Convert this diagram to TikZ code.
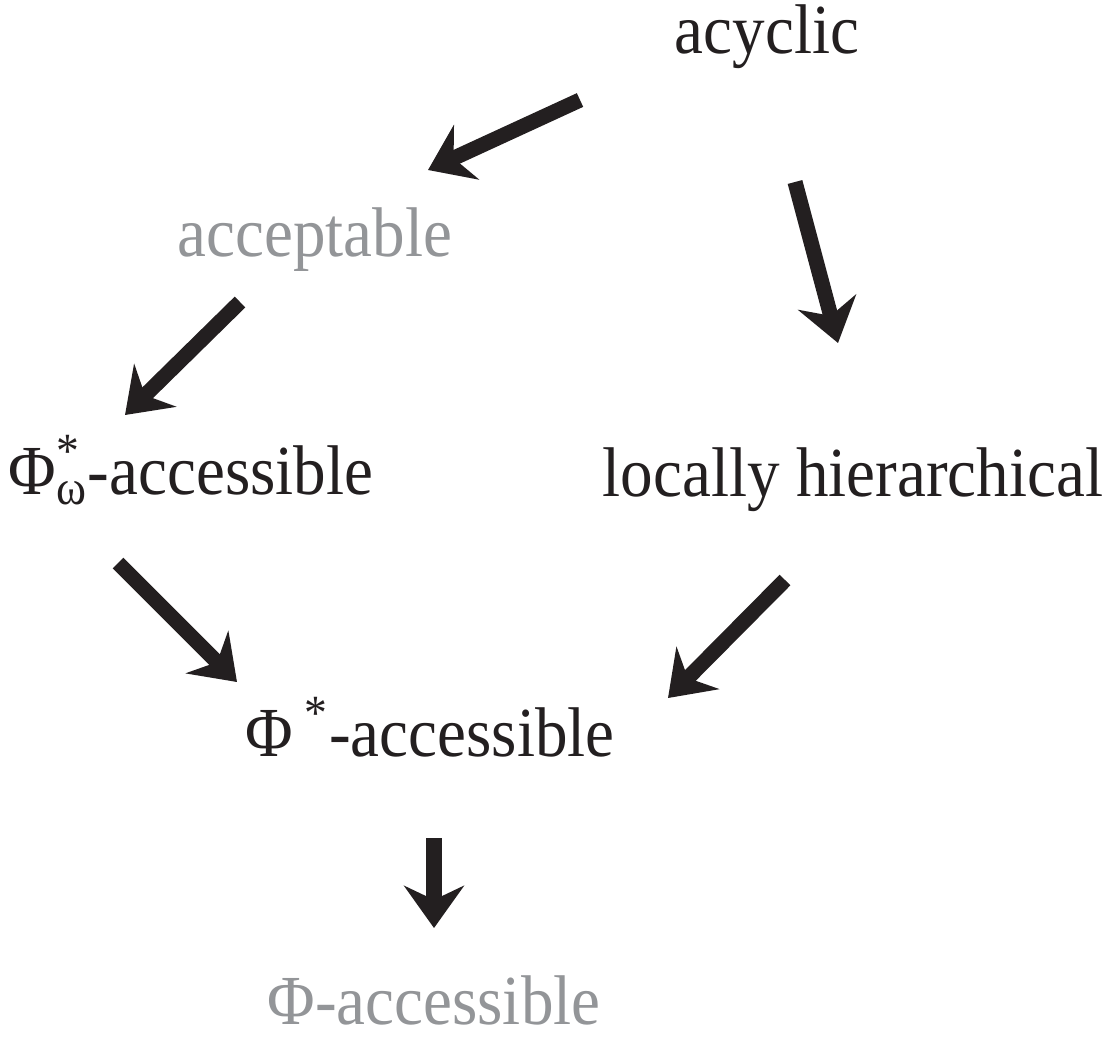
\documentclass[tikz,border=0pt]{standalone}
\usepackage{fontspec}
\usetikzlibrary{arrows.meta}
\newfontfamily\lblfont{Liberation Serif}[FakeStretch=0.925]
\definecolor{ink}{RGB}{35,31,32}
\definecolor{pale}{RGB}{147,149,152}
\newcommand{\supsub}[2]{\rlap{\textsuperscript{#1}}\textsubscript{#2}}

\begin{document}
\begin{tikzpicture}[x=0.01cm, y=-0.01cm,
  lbl/.style={text=ink, inner sep=0pt, anchor=base, font=\fontsize{20}{24}\lblfont},
  weak/.style={lbl, text=pale},
  arr/.style={draw=ink, line width=4.3pt, -{Stealth[length=12pt, width=17pt, inset=4pt]}}]
  \useasboundingbox (0,0) rectangle (1107,1036);
  % classes of programs
  \node[lbl] (acyc) at (767,53) {acyclic};
  \node[weak] (accept) at (315,256) {acceptable};
  \node[lbl, anchor=base west] (phiw) at (8,494) {Φ\supsub{*}{ω}-accessible};
  \node[lbl] (loch) at (853,496) {locally hierarchical};
  \node[lbl] (phis) at (430,756) {Φ\,\textsuperscript{*}-accessible};
  \node[weak] (phi) at (434,1024) {Φ-accessible};
  % arrow ends
  \coordinate (acyc-l) at (580,100);  \coordinate (accept-in) at (428,170);
  \coordinate (acyc-r) at (795,182);  \coordinate (loch-in) at (838,343);
  \coordinate (accept-out) at (240,302); \coordinate (phiw-in) at (125,415);
  \coordinate (phiw-out) at (118,563); \coordinate (phis-l) at (237,682);
  \coordinate (loch-out) at (785,580); \coordinate (phis-r) at (668,698);
  \coordinate (phis-out) at (434,838); \coordinate (phi-in) at (434,928);
  \draw[arr] (acyc-l) -- (accept-in);
  \draw[arr] (acyc-r) -- (loch-in);
  \draw[arr] (accept-out) -- (phiw-in);
  \draw[arr] (phiw-out) -- (phis-l);
  \draw[arr] (loch-out) -- (phis-r);
  \draw[arr] (phis-out) -- (phi-in);
\end{tikzpicture}
\end{document}
